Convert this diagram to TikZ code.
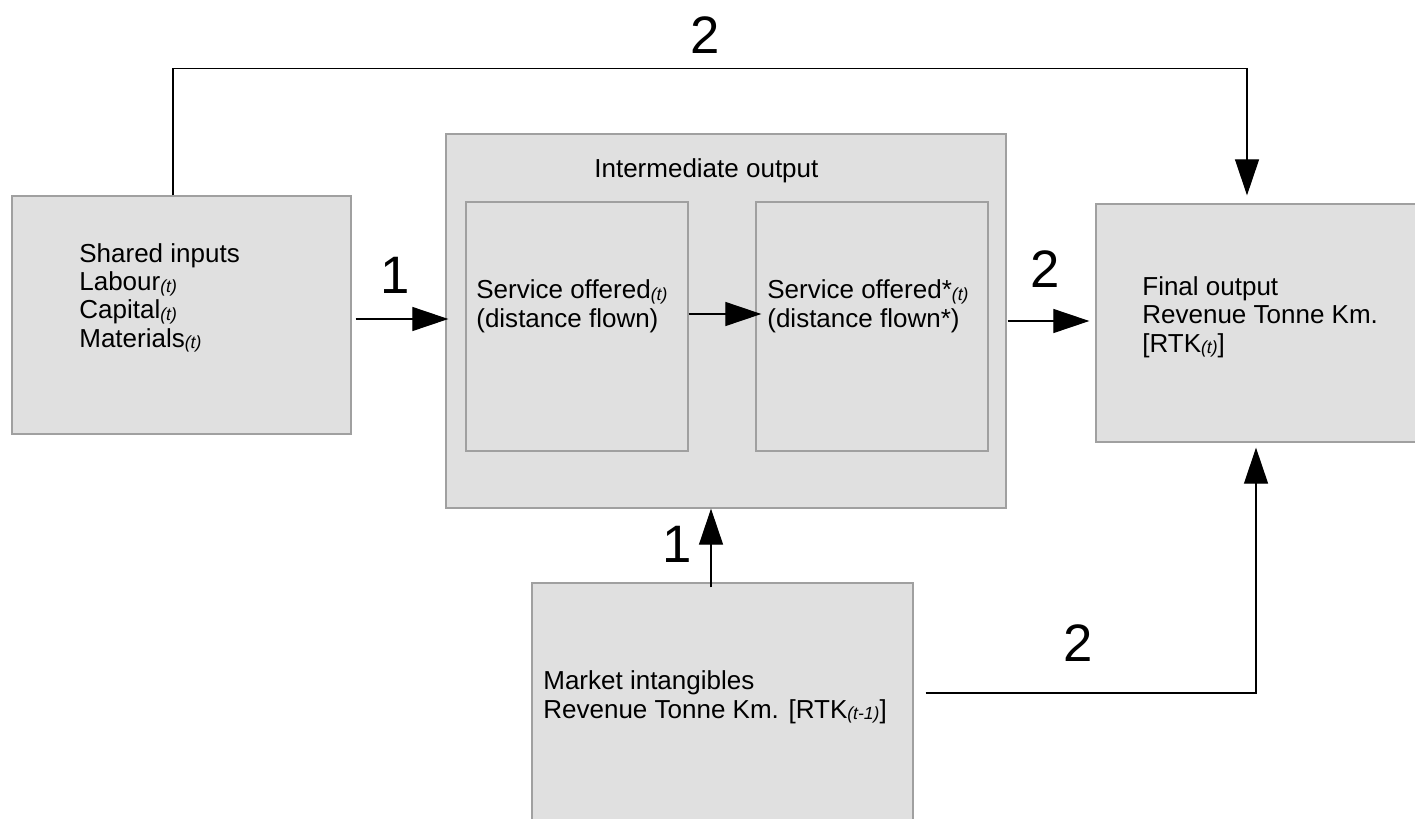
\documentclass[tikz,border=0pt]{standalone}
\usepackage{fontspec}
\setmainfont{Liberation Sans}
\usetikzlibrary{arrows.meta,calc,fit}
\definecolor{boxfill}{HTML}{E0E0E0}
\definecolor{boxline}{HTML}{A0A0A0}
% small italic time index set slightly below the baseline
\newcommand{\tsub}[1]{\raisebox{-0.8pt}{\fontsize{10}{10}\selectfont\itshape(#1)}}
\begin{document}
\begin{tikzpicture}[x=0.02cm, y=-0.02cm,
  box/.style={draw=boxline, fill=boxfill, line width=0.75pt, inner sep=0pt},
  lbl/.style={font=\fontsize{14.8}{16}\selectfont, align=left, anchor=base west, inner sep=0pt},
  num/.style={font=\fontsize{30}{30}\selectfont, inner sep=0pt},
  conn/.style={draw=black, line width=0.7pt, -{Triangle[length=0.72cm,width=0.48cm]}}]

\clip (0,0) rectangle (1415,818);
\fill[white] (0,0) rectangle (1415,818);

% boxes
\node[box, fit={(12,196)(351,434)}] (shared) {};
\node[box, fit={(446,134)(1006,508)}] (inter) {};
\node[box, fit={(466,202)(688,451)}] (sA) {};
\node[box, fit={(756,202)(988,451)}] (sB) {};
\node[box, fit={(1096,204)(1425,442)}] (final) {};
\node[box, fit={(532,583)(913,830)}] (market) {};

% box texts (anchored at the baseline of their last line)
\node[lbl] (tShared) at (79,347) {Shared inputs\\Labour\tsub{t}\\Capital\tsub{t}\\Materials\tsub{t}};
\node[lbl] (tInter) at (594,177) {Intermediate output};
\node[lbl] (tA) at (476,327) {Service offered\tsub{t}\\(distance flown)};
\node[lbl] (tB) at (767,327) {Service offered*\tsub{t}\\(distance flown*)};
\node[lbl] (tFinal) at (1142,352) {Final output\\Revenue Tonne Km.\\{[}RTK\tsub{t}]};
\node[lbl] (tMarket) at (543,718) {Market intangibles\\Revenue Tonne Km. [RTK\tsub{t-1}]};

% connectors
\draw[conn] ($(shared.east)+(4,4)$) -- ($(inter.west)+(3,-2)$);
\draw[conn] ($(sA.east)+(0,-12.5)$) -- ($(sB.west)+(6,-12.5)$);
\draw[conn] ($(inter.east)+(1,0)$) -- ($(final.west)+(-6,-2)$);
\coordinate (m1) at ($(market.north)+(-11.5,5)$);
\draw[conn] (m1) -- (m1 |- inter.south);
\coordinate (m2) at ($(market.east)+(12,-13.5)$);
\draw[conn] (m2) -| ($(final.south)+(-4.5,5)$);
\coordinate (t1) at ($(shared.north)+(-8.5,0)$);
\draw[conn] (t1) |- ($(final.north)+(-13.5,-135)$) -- ($(final.north)+(-13.5,-8)$);

% connector labels
\node[num] (n1) at (395,275) {1};
\node[num] (n2) at (1045,269) {2};
\node[num] (n3) at (677,544) {1};
\node[num] (n4) at (1078,643) {2};
\node[num] (n5) at (705,35) {2};
\end{tikzpicture}
\end{document}
